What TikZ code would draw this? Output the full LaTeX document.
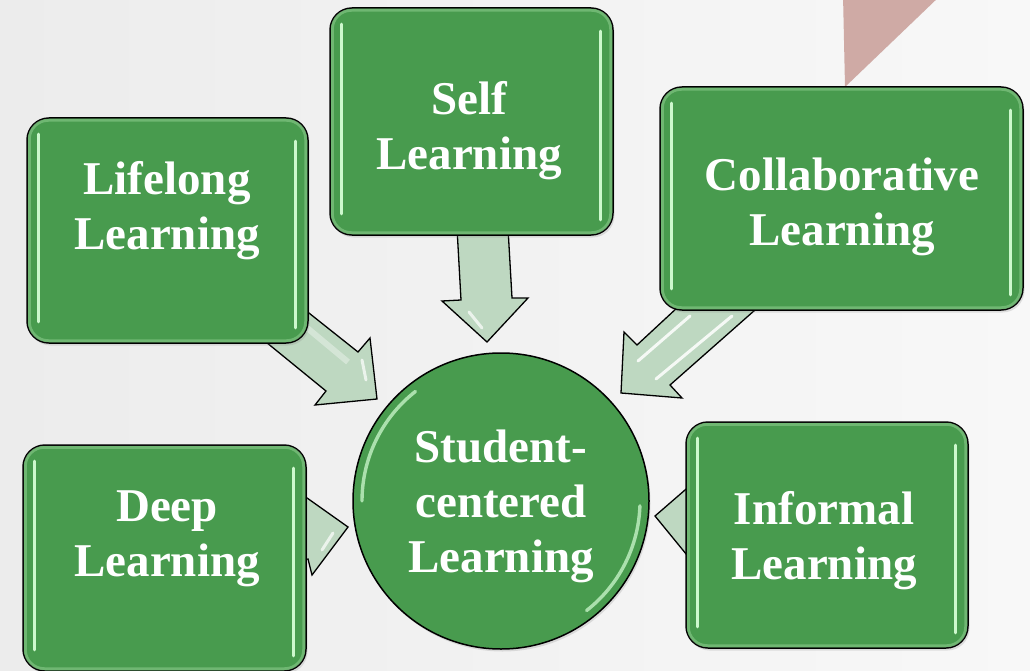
\documentclass[tikz,border=0pt]{standalone}
\usepackage{fontspec}
\setmainfont{Liberation Serif}
\usetikzlibrary{calc,shadows}
\definecolor{boxgreen}{RGB}{72,155,78}
\definecolor{glowgreen}{RGB}{205,248,205}
\definecolor{ringgreen}{RGB}{170,225,170}
\definecolor{arrowfill}{RGB}{190,216,193}
\definecolor{pinktri}{RGB}{207,170,165}
\definecolor{bgA}{RGB}{236,236,236}
\definecolor{bgB}{RGB}{248,248,248}
\tikzset{
 gbox/.style={rectangle, rounded corners=22pt, draw=black, line width=1.5pt, fill=boxgreen, inner sep=0pt,
   drop shadow={opacity=0.22, shadow xshift=1.5pt, shadow yshift=-2.5pt}},
 gcirc/.style={circle, draw=black, line width=1.5pt, fill=boxgreen, inner sep=0pt,
   drop shadow={opacity=0.22, shadow xshift=1.5pt, shadow yshift=-2.5pt}},
 glabel/.style={text=white, font=\fontsize{47}{55}\selectfont\bfseries, align=center, anchor=north, inner sep=0pt},
 hl/.style={line width=3.4pt, draw=glowgreen, line cap=round},
 ring/.style={line width=3pt, draw=ringgreen, opacity=0.4, rounded corners=19pt},
 barrow/.style={fill=arrowfill, draw=black, line width=1.3pt, line join=miter},
 sheen/.style={draw=white, line width=3pt, opacity=0.85, line cap=round},
}
\newcommand\greenbox[5]{%
 \node[gbox, minimum width=#4pt, minimum height=#5pt] (#1) at (#2,#3) {};
 \draw[ring] ($(#1.north west)+(3,3)$) rectangle ($(#1.south east)+(-3,-3)$);
 \draw[hl] ($(#1.north west)+(12,17)$) -- ($(#1.south west)+(12,-22)$);
 \draw[hl] ($(#1.north east)+(-13,24)$) -- ($(#1.south east)+(-13,-16)$);
}
\begin{document}
\begin{tikzpicture}[x=1pt,y=-1pt]
\useasboundingbox (0,0) rectangle (1030,671);
\clip (0,0) rectangle (1030,671);
\shade[left color=bgA, right color=bgB] (0,0) rectangle (1030,671);
% pink triangle behind
\fill[pinktri] (843,-5) -- (941,-5) -- (845,87) -- cycle;
% named tips of the block arrows
\coordinate (selfTip) at (487,342);
\coordinate (lifeTip) at (377,399);
\coordinate (collabTip) at (621,393);
\coordinate (deepTip) at (348,527);
\coordinate (infTip) at (655,516);
% block arrows
\draw[barrow] (457,228) -- (461,300) -- (442,301) -- (selfTip) -- (528,298) -- (512,298) -- (508,228) -- cycle;
\draw[sheen, opacity=0.7] (469,312) -- (482,328);
\draw[barrow] (280,290) -- (358,352) -- (370,338) -- (lifeTip) -- (315,405) -- (326,391) -- (250,329) -- cycle;
\draw[draw=white, opacity=0.35, line width=6pt] (300,322) -- (348,362);
\draw[sheen, opacity=0.7] (362,360) -- (366,380);
\draw[barrow] (772,295) -- (670,385) -- (682,398) -- (collabTip) -- (624,332) -- (637,345) -- (692,294) -- cycle;
\draw[sheen] (690,316) -- (638,361);
\draw[sheen] (732,316) -- (656,379);
\draw[barrow] (300,493) -- (deepTip) -- (312,575) -- (308,559) -- (280,565) -- (280,500) -- cycle;
\draw[sheen, opacity=0.7] (322,550) -- (333,533);
\draw[barrow] (infTip) -- (700,477) -- (700,571) -- cycle;
% centre circle
\node[gcirc, minimum size=296pt] (sc) at (501,501) {};
\draw[hl, opacity=0.75] (sc.center) ++(180:139) arc[start angle=180, end angle=232, radius=139];
\draw[hl, opacity=0.75] (sc.center) ++(2:139) arc[start angle=2, end angle=52, radius=139];
\node[glabel] (scl) at (sc.center |- 0,430) {Student-\\centered\\Learning};
% boxes
\greenbox{life}{167.5}{230.5}{281}{225}
\greenbox{self}{471.5}{121.5}{283}{227}
\greenbox{collab}{841.5}{198.5}{363}{223}
\greenbox{deep}{164.5}{558}{283}{226}
\greenbox{inf}{827}{535}{282}{226}
% labels
\node[glabel] (lifel) at (167,161) {Lifelong\\Learning};
\node[glabel] (selfl) at (469,81) {Self\\Learning};
\node[glabel] (collabl) at (842,158) {Collaborative\\Learning};
\node[glabel] (deepl) at (167,491) {Deep\\Learning};
\node[glabel] (infl) at (824,491) {Informal\\Learning};
\end{tikzpicture}
\end{document}
